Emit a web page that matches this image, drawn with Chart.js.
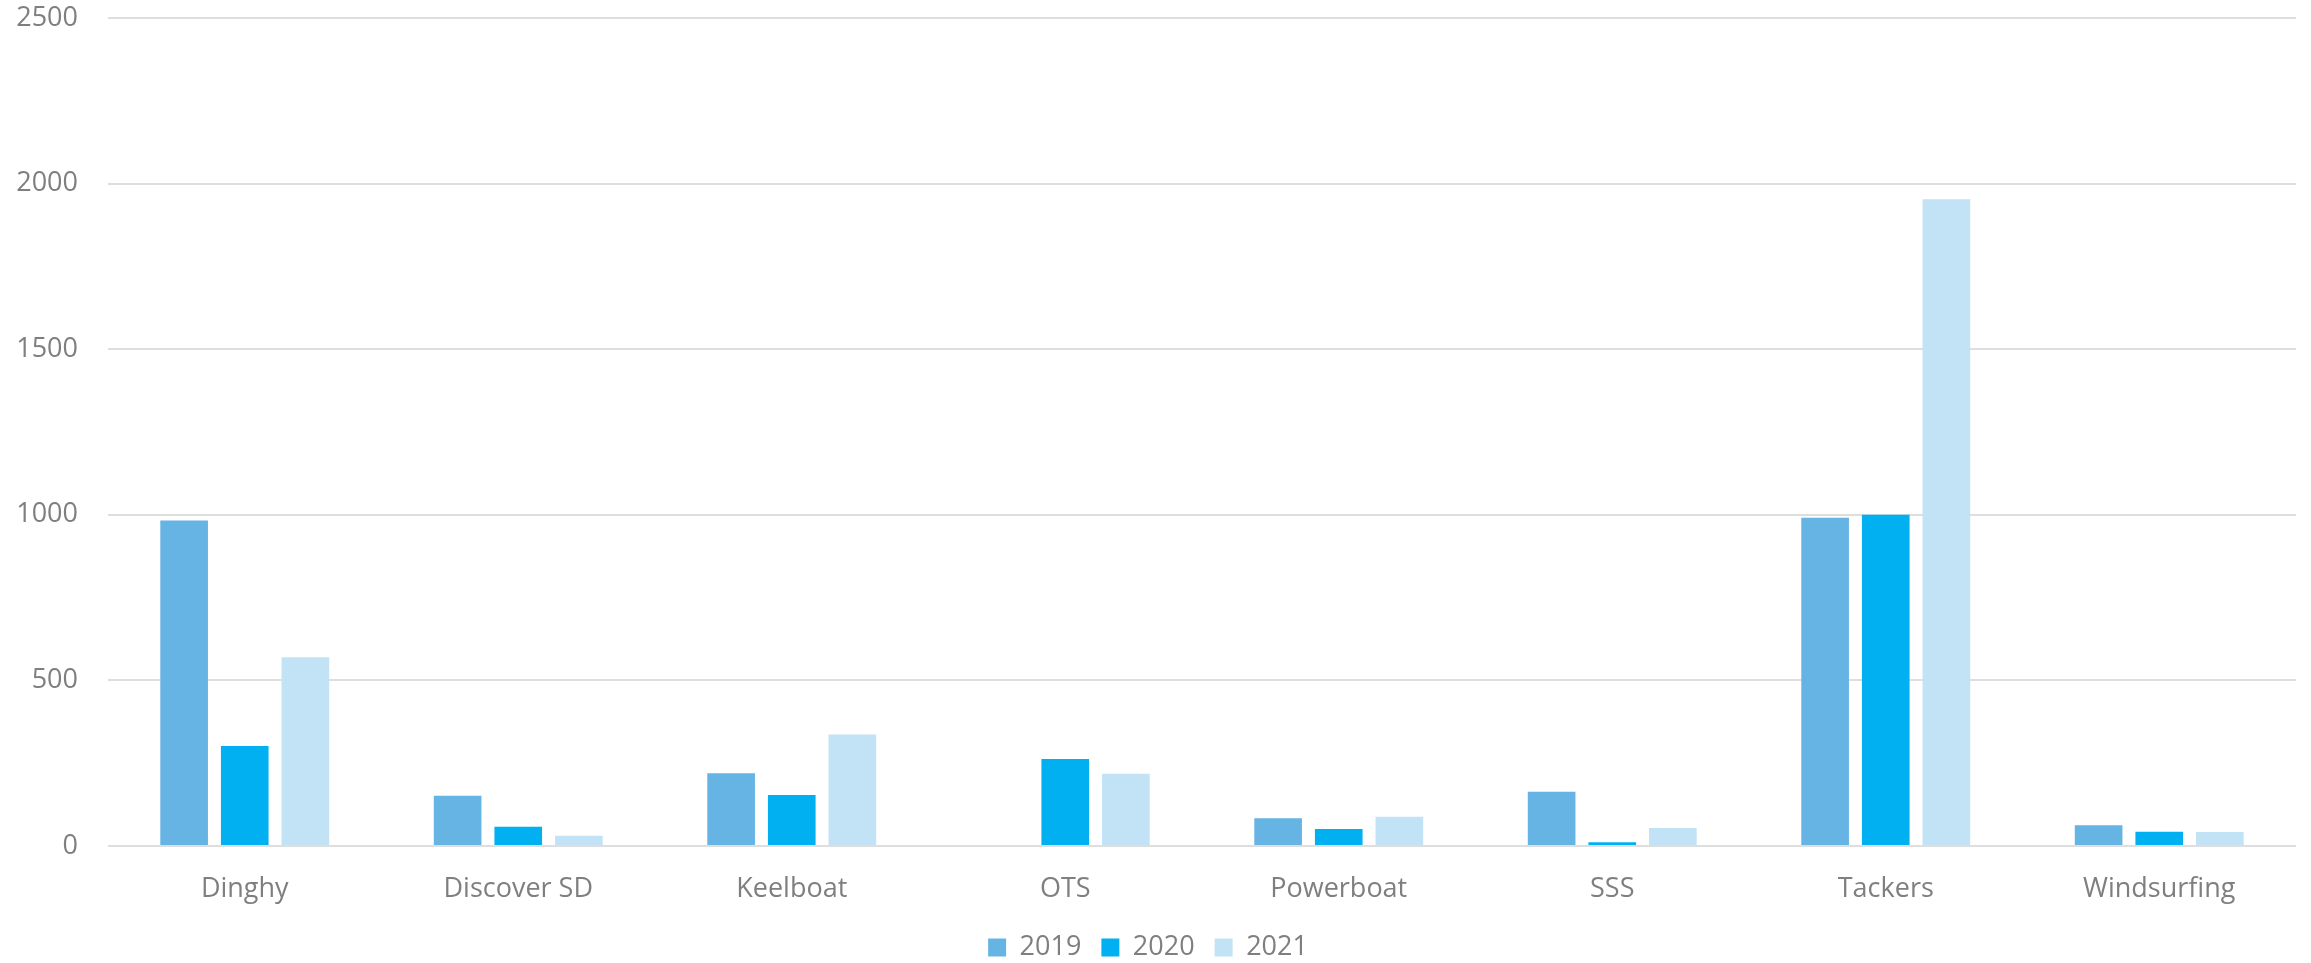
<!DOCTYPE html>
<html>
<head>
<meta charset="utf-8">
<script src="https://cdn.jsdelivr.net/npm/chart.js@4.4.1/dist/chart.umd.min.js"></script>
<style>
  html, body { margin: 0; padding: 0; background: #ffffff; }
  #wrap { width: 2311px; height: 963px; }
</style>
</head>
<body>
<div id="wrap"><canvas id="c" width="2311" height="963"></canvas></div>
<script>
const categories = ["Dinghy", "Discover SD", "Keelboat", "OTS", "Powerboat", "SSS", "Tackers", "Windsurfing"];
const seriesNames = ["2019", "2020", "2021"];
const values2019 = [983, 152, 220, 0, 84, 164, 991, 63];
const values2020 = [302, 58, 154, 263, 51, 11, 1000, 43];
const values2021 = [570, 31, 337, 218, 88, 54, 1953, 42];
const yTicks = [0, 500, 1000, 1500, 2000, 2500];
const colors = ["#65B4E4", "#00B0F0", "#C2E2F5"];

const FONT = "'Open Sans', 'Noto Sans', sans-serif";
const TEXT = "#7f7f7f";

const seriesValues = [values2019, values2020, values2021];
const datasets = seriesNames.map((name, i) => ({
  label: name,
  data: seriesValues[i],
  backgroundColor: colors[i],
  borderWidth: 0,
  categoryPercentage: 0.665,
  barPercentage: 0.786
}));

new Chart(document.getElementById("c"), {
  type: "bar",
  data: { labels: categories, datasets: datasets },
  options: {
    responsive: false,
    devicePixelRatio: 1,
    animation: false,
    layout: { padding: { left: 0, right: 15, top: 18, bottom: -8 } },
    plugins: {
      tooltip: { enabled: false },
      legend: {
        position: "bottom",
        labels: {
          boxWidth: 18,
          boxHeight: 18,
          padding: 20,
          color: TEXT,
          font: { family: FONT, size: 27 }
        }
      }
    },
    scales: {
      x: {
        afterFit: (s) => { s.height = 68; },
        grid: { display: false, drawTicks: false },
        border: { display: false },
        ticks: { color: TEXT, padding: 27, font: { family: FONT, size: 27 } }
      },
      y: {
        min: 0,
        max: 2500,
        afterFit: (s) => { s.width = 108; s.paddingTop = 0; s.paddingBottom = 0; },
        afterBuildTicks: (s) => { s.ticks = yTicks.map(v => ({ value: v })); },
        grid: { color: "#dedede", lineWidth: 2, drawTicks: false },
        border: { display: false },
        ticks: { color: TEXT, padding: 30, font: { family: FONT, size: 27 }, callback: (v) => String(v) }
      }
    }
  }
});
</script>
</body>
</html>
